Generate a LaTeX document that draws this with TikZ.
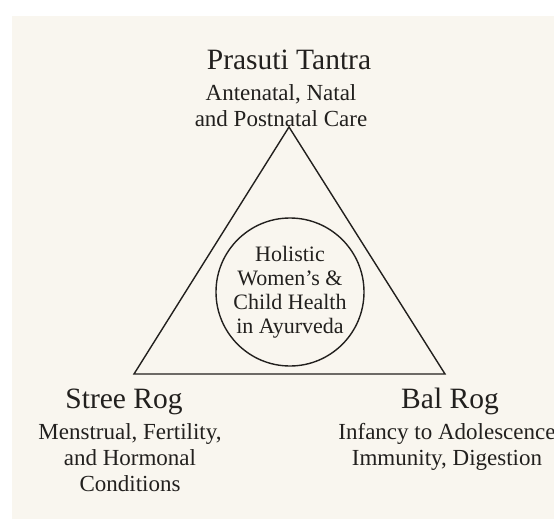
\documentclass[tikz,border=0pt]{standalone}
\usepackage{fontspec}
\setmainfont{Liberation Serif}
\usepackage{tikz}
\usetikzlibrary{positioning}
\definecolor{cream}{RGB}{249,246,239}
\definecolor{ink}{RGB}{34,32,30}
\begin{document}
\begin{tikzpicture}[x=1pt,y=-1pt,
  heading/.style={font=\fontsize{29.5}{32}\selectfont, text=ink, anchor=base, inner sep=0pt},
  detail/.style={font=\fontsize{23}{26}\selectfont, text=ink, align=center, anchor=base, inner sep=0pt},
  edge/.style={draw=ink, line width=1.4pt}]
\useasboundingbox (0,0) rectangle (554,519);
\fill[cream] (12,16) rectangle (554,519);
% corners of the triangle
\coordinate (apex) at (289,127);
\coordinate (stree) at (134,374);
\coordinate (bal) at (445,374);
\draw[edge, line join=miter] (apex) -- (stree) -- (bal) -- cycle;
% centre
\node[circle, edge, minimum size=148pt, inner sep=0pt, align=center, text=ink,
  font=\fontsize{22}{24}\selectfont] (hub) at (290,292)
  {Holistic\\Women's \&\\Child Health\\in Ayurveda};
% labels (base = last line)
\node[heading] (prasuti) at (289,70) {Prasuti Tantra};
\node[detail] (prasutitext) at (281,126) {Antenatal, Natal\\and Postnatal Care};
\node[heading] (streerog) at (124,408) {Stree Rog};
\node[detail] (streetext) at (130,491) {Menstrual, Fertility,\\and Hormonal\\Conditions};
\node[heading] (balrog) at (450,408) {Bal Rog};
\node[detail] (baltext) at (447,465) {Infancy to Adolescence\\Immunity, Digestion};
\end{tikzpicture}
\end{document}
